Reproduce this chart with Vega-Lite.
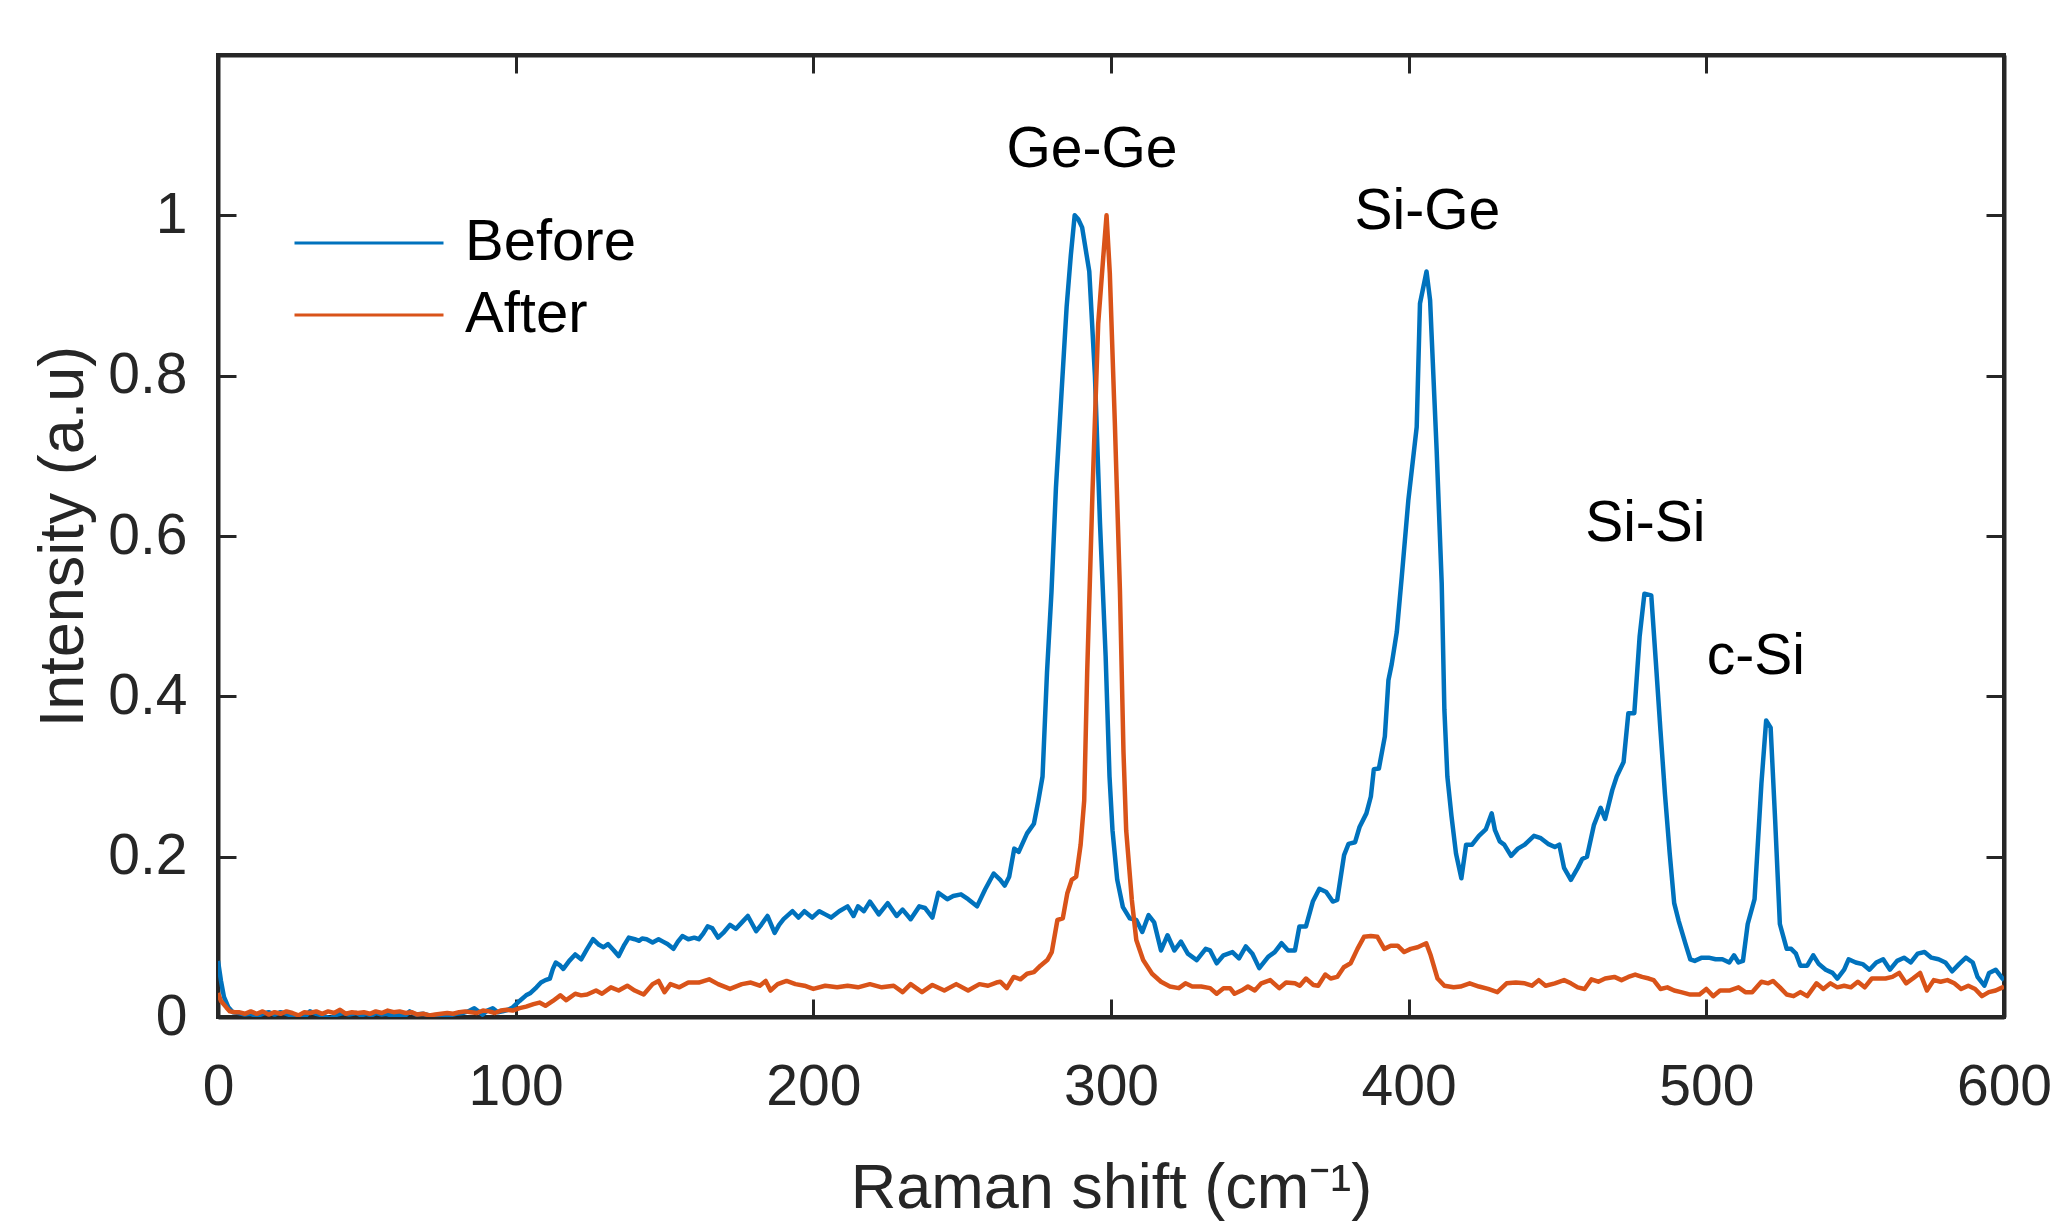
{
  "$schema": "https://vega.github.io/schema/vega-lite/v6.json",
  "autosize": {"type": "none"},
  "width": 1786,
  "height": 962,
  "padding": {"left": 218, "top": 55, "right": 53, "bottom": 205},
  "background": "white",
  "config": {
    "font": "Liberation Sans",
    "view": {"stroke": "#262626", "strokeWidth": 4},
    "axis": {"grid": false, "labelFlush": false, "labelOverlap": false, "domainColor": "#262626", "domainWidth": 4, "tickColor": "#262626", "tickWidth": 3, "tickSize": -18, "labelColor": "#262626", "labelFont": "Liberation Sans", "titleFont": "Liberation Sans", "titleColor": "#262626", "titleFontWeight": "normal"}
  },
  "datasets": {
    "before": [
      {"x":0,"y":0.07},{"x":1,"y":0.045},{"x":2,"y":0.025},{"x":3.5,"y":0.012},{"x":5,"y":0.006},{"x":7,"y":0.005},{"x":9,"y":0.003},{"x":11,"y":0.004},{"x":13,"y":0.001},{"x":15,"y":0.004},{"x":17,"y":0.006},{"x":19,"y":0.003},{"x":21,"y":0.006},{"x":23,"y":0.004},{"x":25,"y":0.001},{"x":27,"y":0.0},{"x":28.6,"y":-0.002},{"x":30.9,"y":0.007},{"x":33,"y":0.004},{"x":35,"y":0.002},{"x":37.6,"y":-0.002},{"x":40,"y":0.003},{"x":42,"y":0.005},{"x":44,"y":0.003},{"x":46.5,"y":0.005},{"x":48,"y":0.002},{"x":49.8,"y":0.004},{"x":51.5,"y":0.002},{"x":53.2,"y":0.005},{"x":55,"y":0.003},{"x":56.5,"y":0.004},{"x":59,"y":0.001},{"x":61,"y":0.003},{"x":63,"y":0.002},{"x":64.4,"y":0.007},{"x":66.5,"y":0.003},{"x":68.8,"y":0.004},{"x":71,"y":0.002},{"x":73.3,"y":-0.002},{"x":75.5,"y":0.001},{"x":77.8,"y":0.002},{"x":80,"y":0.004},{"x":82.2,"y":0.005},{"x":84,"y":0.007},{"x":86.1,"y":0.011},{"x":88.9,"y":0.003},{"x":90.5,"y":0.008},{"x":92.3,"y":0.011},{"x":94,"y":0.006},{"x":95.6,"y":0.007},{"x":97.5,"y":0.009},{"x":99,"y":0.012},{"x":101.3,"y":0.02},{"x":103.5,"y":0.027},{"x":105,"y":0.03},{"x":107,"y":0.037},{"x":108.5,"y":0.043},{"x":110,"y":0.046},{"x":111.5,"y":0.048},{"x":112.5,"y":0.06},{"x":113.5,"y":0.068},{"x":115,"y":0.064},{"x":116,"y":0.06},{"x":118,"y":0.07},{"x":120,"y":0.078},{"x":122,"y":0.072},{"x":124,"y":0.085},{"x":126,"y":0.097},{"x":128,"y":0.09},{"x":129.5,"y":0.087},{"x":131,"y":0.091},{"x":133,"y":0.083},{"x":134.6,"y":0.076},{"x":136.5,"y":0.09},{"x":138,"y":0.099},{"x":140,"y":0.097},{"x":141.5,"y":0.095},{"x":142.5,"y":0.098},{"x":144,"y":0.097},{"x":146,"y":0.093},{"x":148,"y":0.097},{"x":149.5,"y":0.094},{"x":151,"y":0.091},{"x":153,"y":0.085},{"x":154.5,"y":0.094},{"x":156,"y":0.101},{"x":158,"y":0.097},{"x":160,"y":0.099},{"x":161.5,"y":0.097},{"x":163,"y":0.104},{"x":164.5,"y":0.113},{"x":166,"y":0.111},{"x":168,"y":0.099},{"x":170,"y":0.106},{"x":172,"y":0.115},{"x":174,"y":0.11},{"x":176,"y":0.118},{"x":178,"y":0.126},{"x":180.8,"y":0.107},{"x":182.5,"y":0.115},{"x":184.6,"y":0.126},{"x":187,"y":0.105},{"x":188.5,"y":0.115},{"x":190,"y":0.122},{"x":193,"y":0.132},{"x":195,"y":0.124},{"x":197,"y":0.132},{"x":199.6,"y":0.124},{"x":202,"y":0.132},{"x":204,"y":0.128},{"x":206,"y":0.124},{"x":208.7,"y":0.132},{"x":211.5,"y":0.138},{"x":213.5,"y":0.126},{"x":215,"y":0.138},{"x":217,"y":0.132},{"x":219,"y":0.144},{"x":222,"y":0.128},{"x":225,"y":0.142},{"x":228,"y":0.126},{"x":230,"y":0.134},{"x":232.7,"y":0.122},{"x":235.6,"y":0.138},{"x":237.5,"y":0.136},{"x":240,"y":0.124},{"x":242,"y":0.155},{"x":245,"y":0.147},{"x":247,"y":0.151},{"x":249.6,"y":0.153},{"x":252,"y":0.147},{"x":255,"y":0.138},{"x":257.7,"y":0.159},{"x":260.6,"y":0.179},{"x":262.8,"y":0.171},{"x":264.3,"y":0.164},{"x":265.8,"y":0.175},{"x":267.5,"y":0.21},{"x":269,"y":0.206},{"x":271.8,"y":0.229},{"x":274.1,"y":0.241},{"x":275.6,"y":0.27},{"x":277,"y":0.3},{"x":278.5,"y":0.43},{"x":280,"y":0.53},{"x":281.5,"y":0.66},{"x":283.4,"y":0.78},{"x":285.1,"y":0.886},{"x":286.5,"y":0.95},{"x":287.8,"y":1.0},{"x":289,"y":0.995},{"x":290.3,"y":0.985},{"x":292.7,"y":0.93},{"x":294.6,"y":0.8},{"x":296.3,"y":0.616},{"x":298.2,"y":0.45},{"x":299.5,"y":0.3},{"x":300.5,"y":0.233},{"x":302.1,"y":0.171},{"x":304,"y":0.137},{"x":306.3,"y":0.123},{"x":308.5,"y":0.121},{"x":310.5,"y":0.106},{"x":312.6,"y":0.127},{"x":314.5,"y":0.118},{"x":316.8,"y":0.083},{"x":319,"y":0.102},{"x":321.3,"y":0.083},{"x":323.5,"y":0.094},{"x":325.8,"y":0.079},{"x":328.8,"y":0.071},{"x":331.8,"y":0.085},{"x":333.3,"y":0.083},{"x":335.5,"y":0.067},{"x":337.8,"y":0.077},{"x":340.8,"y":0.081},{"x":343,"y":0.073},{"x":345.3,"y":0.088},{"x":347.5,"y":0.079},{"x":349.8,"y":0.061},{"x":352.8,"y":0.075},{"x":355,"y":0.081},{"x":357.3,"y":0.092},{"x":359.5,"y":0.083},{"x":361.8,"y":0.083},{"x":363.3,"y":0.113},{"x":365.5,"y":0.113},{"x":367.8,"y":0.144},{"x":370,"y":0.16},{"x":372.3,"y":0.156},{"x":374.5,"y":0.144},{"x":376,"y":0.146},{"x":378.3,"y":0.202},{"x":379.8,"y":0.216},{"x":382,"y":0.218},{"x":383.5,"y":0.237},{"x":385.8,"y":0.254},{"x":387.3,"y":0.275},{"x":388.3,"y":0.309},{"x":390,"y":0.31},{"x":392,"y":0.35},{"x":393.2,"y":0.42},{"x":394.3,"y":0.44},{"x":396,"y":0.48},{"x":397.7,"y":0.55},{"x":399.9,"y":0.645},{"x":402.7,"y":0.736},{"x":403.8,"y":0.89},{"x":406,"y":0.93},{"x":407.2,"y":0.894},{"x":409.4,"y":0.707},{"x":411.1,"y":0.541},{"x":412,"y":0.383},{"x":413,"y":0.3},{"x":414.4,"y":0.25},{"x":415.9,"y":0.204},{"x":417.7,"y":0.173},{"x":419.3,"y":0.215},{"x":421.3,"y":0.215},{"x":423.6,"y":0.226},{"x":425.9,"y":0.234},{"x":427.9,"y":0.254},{"x":429,"y":0.233},{"x":430.6,"y":0.219},{"x":432.1,"y":0.215},{"x":434.4,"y":0.201},{"x":436.7,"y":0.21},{"x":439,"y":0.215},{"x":442.1,"y":0.226},{"x":444.4,"y":0.223},{"x":446.8,"y":0.216},{"x":449.1,"y":0.212},{"x":450.6,"y":0.215},{"x":452.2,"y":0.186},{"x":454.5,"y":0.171},{"x":456.8,"y":0.186},{"x":458.3,"y":0.197},{"x":459.9,"y":0.2},{"x":462.2,"y":0.239},{"x":464.5,"y":0.261},{"x":466,"y":0.247},{"x":468.4,"y":0.283},{"x":469.9,"y":0.3},{"x":472.2,"y":0.318},{"x":473.8,"y":0.379},{"x":475.8,"y":0.379},{"x":477.6,"y":0.475},{"x":479.2,"y":0.528},{"x":481.5,"y":0.526},{"x":483,"y":0.445},{"x":484.6,"y":0.357},{"x":486.1,"y":0.278},{"x":487.7,"y":0.204},{"x":489.2,"y":0.142},{"x":490.7,"y":0.12},{"x":493.1,"y":0.09},{"x":494.6,"y":0.072},{"x":496.1,"y":0.07},{"x":498.5,"y":0.074},{"x":500.8,"y":0.074},{"x":503.1,"y":0.072},{"x":505.4,"y":0.072},{"x":507.7,"y":0.068},{"x":509.3,"y":0.077},{"x":510.8,"y":0.068},{"x":512.3,"y":0.07},{"x":513.9,"y":0.116},{"x":516.2,"y":0.147},{"x":518.5,"y":0.291},{"x":520.1,"y":0.37},{"x":521.6,"y":0.361},{"x":523.1,"y":0.247},{"x":524.7,"y":0.116},{"x":527,"y":0.085},{"x":528.5,"y":0.085},{"x":530.1,"y":0.079},{"x":531.6,"y":0.064},{"x":533.9,"y":0.064},{"x":535.9,"y":0.077},{"x":537.8,"y":0.066},{"x":540.1,"y":0.059},{"x":542.4,"y":0.055},{"x":544,"y":0.048},{"x":546.3,"y":0.059},{"x":547.8,"y":0.072},{"x":550.2,"y":0.068},{"x":552.5,"y":0.066},{"x":554.8,"y":0.059},{"x":557.1,"y":0.068},{"x":559.4,"y":0.072},{"x":561.7,"y":0.059},{"x":564.1,"y":0.07},{"x":566.4,"y":0.074},{"x":568.7,"y":0.068},{"x":571,"y":0.079},{"x":573.3,"y":0.081},{"x":575.6,"y":0.074},{"x":578,"y":0.072},{"x":580.3,"y":0.068},{"x":582.6,"y":0.057},{"x":584.9,"y":0.066},{"x":587.2,"y":0.074},{"x":589.5,"y":0.068},{"x":591.1,"y":0.05},{"x":593.4,"y":0.039},{"x":595,"y":0.055},{"x":597.2,"y":0.059},{"x":599.5,"y":0.048},{"x":600,"y":0.046}
    ],
    "after": [
      {"x":0,"y":0.03},{"x":1,"y":0.02},{"x":2.8,"y":0.012},{"x":4,"y":0.007},{"x":5.6,"y":0.006},{"x":7,"y":0.006},{"x":9,"y":0.004},{"x":11,"y":0.007},{"x":13,"y":0.004},{"x":15,"y":0.007},{"x":17,"y":0.003},{"x":19,"y":0.006},{"x":21,"y":0.004},{"x":23,"y":0.007},{"x":25,"y":0.005},{"x":27,"y":0.002},{"x":29,"y":0.006},{"x":31,"y":0.005},{"x":33,"y":0.007},{"x":35,"y":0.004},{"x":37,"y":0.007},{"x":39,"y":0.005},{"x":41,"y":0.009},{"x":43,"y":0.004},{"x":45,"y":0.006},{"x":47,"y":0.005},{"x":49,"y":0.006},{"x":51,"y":0.004},{"x":53,"y":0.007},{"x":55,"y":0.005},{"x":57,"y":0.008},{"x":59,"y":0.006},{"x":61,"y":0.007},{"x":63,"y":0.005},{"x":65,"y":0.006},{"x":67,"y":0.003},{"x":69,"y":0.004},{"x":71,"y":0.002},{"x":73,"y":0.003},{"x":75,"y":0.004},{"x":77,"y":0.005},{"x":79,"y":0.004},{"x":81,"y":0.006},{"x":83,"y":0.007},{"x":85,"y":0.006},{"x":87,"y":0.005},{"x":89,"y":0.008},{"x":91,"y":0.007},{"x":93,"y":0.005},{"x":95,"y":0.008},{"x":97,"y":0.009},{"x":99,"y":0.008},{"x":101.3,"y":0.011},{"x":103.5,"y":0.013},{"x":106,"y":0.016},{"x":108,"y":0.018},{"x":110,"y":0.014},{"x":112.5,"y":0.02},{"x":115,"y":0.027},{"x":117,"y":0.021},{"x":120,"y":0.029},{"x":122,"y":0.027},{"x":124,"y":0.028},{"x":127,"y":0.033},{"x":129,"y":0.029},{"x":132,"y":0.037},{"x":134.6,"y":0.033},{"x":137.5,"y":0.039},{"x":140,"y":0.033},{"x":143,"y":0.028},{"x":146,"y":0.041},{"x":148,"y":0.045},{"x":150,"y":0.031},{"x":152,"y":0.041},{"x":155,"y":0.037},{"x":158,"y":0.043},{"x":161.5,"y":0.043},{"x":165,"y":0.047},{"x":168,"y":0.041},{"x":172,"y":0.035},{"x":176,"y":0.041},{"x":179,"y":0.043},{"x":182,"y":0.039},{"x":184,"y":0.045},{"x":185.6,"y":0.033},{"x":188,"y":0.041},{"x":191,"y":0.045},{"x":194,"y":0.041},{"x":197,"y":0.039},{"x":200,"y":0.035},{"x":204,"y":0.039},{"x":208,"y":0.037},{"x":211.5,"y":0.039},{"x":215,"y":0.037},{"x":219,"y":0.041},{"x":223,"y":0.037},{"x":227,"y":0.039},{"x":230,"y":0.031},{"x":232.7,"y":0.041},{"x":236.5,"y":0.031},{"x":240,"y":0.04},{"x":244,"y":0.033},{"x":248,"y":0.041},{"x":252,"y":0.033},{"x":255.8,"y":0.041},{"x":258.7,"y":0.039},{"x":261.5,"y":0.043},{"x":262.8,"y":0.044},{"x":265,"y":0.036},{"x":267.3,"y":0.05},{"x":269.6,"y":0.047},{"x":271.8,"y":0.054},{"x":274.1,"y":0.056},{"x":276.3,"y":0.064},{"x":278.6,"y":0.071},{"x":280.1,"y":0.081},{"x":282,"y":0.121},{"x":283.8,"y":0.123},{"x":285.3,"y":0.154},{"x":286.8,"y":0.171},{"x":288.3,"y":0.175},{"x":289.8,"y":0.215},{"x":291,"y":0.27},{"x":292,"y":0.43},{"x":293.8,"y":0.657},{"x":295.7,"y":0.865},{"x":297.4,"y":0.948},{"x":298.5,"y":1.0},{"x":299.6,"y":0.928},{"x":301.3,"y":0.74},{"x":303,"y":0.532},{"x":304.2,"y":0.33},{"x":305.1,"y":0.233},{"x":307,"y":0.146},{"x":308.5,"y":0.096},{"x":310.8,"y":0.071},{"x":313.8,"y":0.054},{"x":316.8,"y":0.044},{"x":319.8,"y":0.038},{"x":322.8,"y":0.036},{"x":325,"y":0.042},{"x":327.3,"y":0.038},{"x":330.3,"y":0.038},{"x":333.3,"y":0.036},{"x":335.5,"y":0.029},{"x":337.8,"y":0.036},{"x":340,"y":0.036},{"x":341.5,"y":0.029},{"x":343.8,"y":0.033},{"x":346,"y":0.038},{"x":348.3,"y":0.033},{"x":350.5,"y":0.042},{"x":353.5,"y":0.046},{"x":356.5,"y":0.036},{"x":358.8,"y":0.043},{"x":361.8,"y":0.042},{"x":363.4,"y":0.039},{"x":365.5,"y":0.048},{"x":368,"y":0.04},{"x":369.6,"y":0.039},{"x":372,"y":0.053},{"x":373.8,"y":0.048},{"x":376,"y":0.05},{"x":378.2,"y":0.062},{"x":380.5,"y":0.067},{"x":382.8,"y":0.085},{"x":385,"y":0.1},{"x":387.3,"y":0.101},{"x":389.5,"y":0.1},{"x":391.8,"y":0.085},{"x":394,"y":0.089},{"x":396.3,"y":0.089},{"x":398.5,"y":0.081},{"x":400.7,"y":0.085},{"x":403,"y":0.087},{"x":405.9,"y":0.092},{"x":407.4,"y":0.077},{"x":409.7,"y":0.048},{"x":412,"y":0.039},{"x":415.1,"y":0.037},{"x":417.4,"y":0.038},{"x":420.5,"y":0.042},{"x":423.6,"y":0.038},{"x":426.7,"y":0.035},{"x":429.8,"y":0.031},{"x":432.9,"y":0.042},{"x":436,"y":0.043},{"x":439,"y":0.042},{"x":441.4,"y":0.039},{"x":443.7,"y":0.046},{"x":446,"y":0.039},{"x":449.1,"y":0.042},{"x":452.2,"y":0.046},{"x":454.5,"y":0.042},{"x":456.8,"y":0.037},{"x":459.1,"y":0.035},{"x":461.4,"y":0.047},{"x":463.7,"y":0.044},{"x":466,"y":0.048},{"x":469.1,"y":0.05},{"x":471.5,"y":0.046},{"x":473.8,"y":0.05},{"x":476.1,"y":0.053},{"x":478.4,"y":0.05},{"x":480.7,"y":0.048},{"x":482.3,"y":0.046},{"x":484.6,"y":0.035},{"x":486.9,"y":0.037},{"x":489.2,"y":0.033},{"x":491.5,"y":0.031},{"x":494.6,"y":0.028},{"x":497.7,"y":0.028},{"x":500,"y":0.035},{"x":502.3,"y":0.026},{"x":504.6,"y":0.033},{"x":507.7,"y":0.033},{"x":510.8,"y":0.037},{"x":513.1,"y":0.031},{"x":515.4,"y":0.031},{"x":518.5,"y":0.044},{"x":520.8,"y":0.042},{"x":522.4,"y":0.045},{"x":524.7,"y":0.037},{"x":527,"y":0.028},{"x":529.3,"y":0.026},{"x":531.6,"y":0.031},{"x":533.9,"y":0.026},{"x":537,"y":0.042},{"x":539.3,"y":0.035},{"x":541.7,"y":0.042},{"x":544,"y":0.037},{"x":546.3,"y":0.039},{"x":548.6,"y":0.037},{"x":550.9,"y":0.044},{"x":553.2,"y":0.037},{"x":555.6,"y":0.048},{"x":557.9,"y":0.048},{"x":560.2,"y":0.048},{"x":562.5,"y":0.05},{"x":564.8,"y":0.055},{"x":567.1,"y":0.042},{"x":569.4,"y":0.048},{"x":571.8,"y":0.055},{"x":574.1,"y":0.033},{"x":576.4,"y":0.046},{"x":578.7,"y":0.044},{"x":581,"y":0.046},{"x":583.3,"y":0.042},{"x":585.6,"y":0.035},{"x":588,"y":0.039},{"x":590.3,"y":0.035},{"x":592.6,"y":0.026},{"x":594.9,"y":0.031},{"x":597.2,"y":0.033},{"x":599.5,"y":0.037},{"x":600,"y":0.038}
    ],
    "labels": [
      {"x":293.6,"y":1.06,"t":"Ge-Ge"},
      {"x":406.3,"y":0.983,"t":"Si-Ge"},
      {"x":479.5,"y":0.594,"t":"Si-Si"},
      {"x":516.6,"y":0.428,"t":"c-Si"}
    ]
  },
  "layer": [
    {
      "data": {"name": "before"},
      "transform": [{"calculate": "'Before'", "as": "series"}],
      "mark": {"type": "line", "strokeWidth": 4.5, "clip": true, "strokeJoin": "round"},
      "encoding": {
        "x": {"field": "x", "type": "quantitative", "scale": {"domain": [0, 600], "nice": false, "zero": false},
          "axis": {"orient": "bottom", "values": [0,100,200,300,400,500,600], "format": "d", "labelFontSize": 57, "labelPadding": 60,
            "title": "Raman shift (cm⁻¹)", "titleFontSize": 63, "titleBaseline": "alphabetic", "titleY": 190}},
        "y": {"field": "y", "type": "quantitative", "scale": {"domain": [0, 1.2], "nice": false, "zero": false},
          "axis": {"orient": "left", "values": [0,0.2,0.4,0.6,0.8,1], "format": "~g", "labelFontSize": 57, "labelPadding": 49,
            "title": "Intensity (a.u)", "titleFontSize": 63, "titleBaseline": "alphabetic", "titleX": -136, "titleY": 481}},
        "color": {"field": "series", "type": "nominal",
          "scale": {"domain": ["Before", "After"], "range": ["#0072BD", "#D95319"]},
          "legend": {"orient": "none", "legendX": 75, "legendY": 152, "title": null, "symbolType": "stroke", "symbolSize": 22201,
            "symbolStrokeWidth": 3, "labelFontSize": 58, "labelOffset": 20, "labelLimit": 0, "clipHeight": 72, "rowPadding": 0, "padding": 0,
            "labelColor": "#000000", "labelFont": "Liberation Sans"}}
      }
    },
    {
      "data": {"name": "after"},
      "transform": [{"calculate": "'After'", "as": "series"}],
      "mark": {"type": "line", "strokeWidth": 4.5, "clip": true, "strokeJoin": "round"},
      "encoding": {
        "x": {"field": "x", "type": "quantitative", "scale": {"domain": [0, 600], "nice": false, "zero": false}, "axis": null},
        "y": {"field": "y", "type": "quantitative", "scale": {"domain": [0, 1.2], "nice": false, "zero": false}, "axis": null},
        "color": {"field": "series", "type": "nominal"}
      }
    },
    {
      "data": {"name": "labels"},
      "mark": {"type": "text", "fontSize": 57, "font": "Liberation Sans", "color": "#000000", "align": "center", "baseline": "alphabetic"},
      "encoding": {
        "x": {"field": "x", "type": "quantitative", "scale": {"domain": [0, 600], "nice": false, "zero": false},
          "axis": {"orient": "top", "values": [0,100,200,300,400,500,600], "labels": false, "title": null}},
        "y": {"field": "y", "type": "quantitative", "scale": {"domain": [0, 1.2], "nice": false, "zero": false},
          "axis": {"orient": "right", "values": [0,0.2,0.4,0.6,0.8,1], "labels": false, "title": null}},
        "text": {"field": "t"}
      }
    }
  ],
  "resolve": {"axis": {"x": "independent", "y": "independent"}}
}
